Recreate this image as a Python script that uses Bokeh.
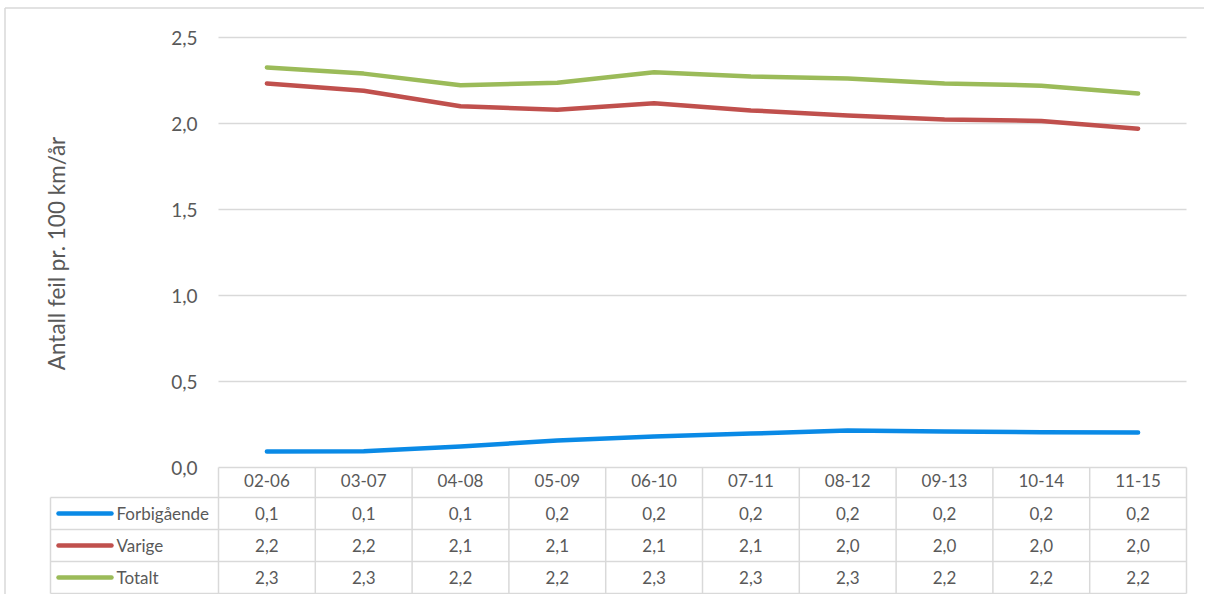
from bokeh.plotting import figure
from bokeh.models import Range1d, FixedTicker, CustomJSTickFormatter
from bokeh.core.properties import value
from bokeh.embed import file_html
from bokeh.resources import INLINE

# ---------------- data ----------------
categories = ["02-06", "03-07", "04-08", "05-09", "06-10", "07-11", "08-12", "09-13", "10-14", "11-15"]
forbigaaende = [0.093, 0.095, 0.122, 0.157, 0.180, 0.197, 0.215, 0.210, 0.205, 0.204]
varige = [2.233, 2.190, 2.100, 2.080, 2.118, 2.076, 2.047, 2.023, 2.015, 1.970]
totalt = [2.326, 2.290, 2.222, 2.237, 2.298, 2.273, 2.262, 2.233, 2.220, 2.174]
series_names = ["Forbigående", "Varige", "Totalt"]
y_ticks = [0.0, 0.5, 1.0, 1.5, 2.0, 2.5]
y_title = "Antall feil pr. 100 km/år"

# ---------------- layout (page pixels -> data) ----------------
W, H = 1204, 594
PAGE = 0
X0, CAT_PX = 218.0, 96.8     # page x of first category edge, px per category
Y0, UNIT_PX = 467.0, 172.0   # page y of value 0, px per unit


def dx(X):
    return (X - X0) / CAT_PX


def dy(Y):
    return (Y0 - Y) / UNIT_PX


FONT = value("Lato")
TXT = "#595959"
GRID = "#d9d9d9"
colors = ["#0a8ae6", "#c0504d", "#9bbb59"]

p = figure(width=W, height=H, output_backend="svg", toolbar_location=None,
           x_range=Range1d(dx(PAGE), dx(PAGE + W)), y_range=Range1d(dy(PAGE + H), dy(PAGE)),
           min_border=0, min_border_left=0, min_border_right=0, min_border_top=0, min_border_bottom=0)
p.outline_line_color = None
p.background_fill_color = "white"
p.xgrid.visible = False
p.ygrid.visible = False

# y axis placed at the left edge of the plot area
yax = p.yaxis[0]
yax.fixed_location = 0
yax.ticker = FixedTicker(ticks=y_ticks)
yax.formatter = CustomJSTickFormatter(code="return tick.toFixed(1).replace('.', ',');")
yax.axis_line_color = None
yax.major_tick_line_color = None
yax.minor_tick_line_color = None
yax.major_tick_out = 0
yax.major_label_standoff = 21
yax.major_label_text_font = "Lato"
yax.major_label_text_font_size = "19px"
yax.major_label_text_color = TXT

# x axis: category header row of the data table
xax = p.xaxis[0]
xax.fixed_location = 0
ncat = len(categories)
xax.ticker = FixedTicker(ticks=[i + 0.5 for i in range(ncat)])
xax.formatter = CustomJSTickFormatter(args=dict(cats=categories),
                                      code="return cats[Math.floor(tick)];")
xax.axis_line_color = None
xax.major_tick_line_color = None
xax.minor_tick_line_color = None
xax.major_tick_out = 0
xax.major_label_standoff = 6
xax.major_label_text_font = "Lato"
xax.major_label_text_font_size = "17px"
xax.major_label_text_color = TXT

# outer chart border (left and top)
p.segment(x0=[dx(4.5), dx(4.5)], y0=[dy(7.5), dy(7.5)],
          x1=[dx(4.5), dx(PAGE + W)], y1=[dy(PAGE + H), dy(7.5)],
          line_color=GRID, line_width=1.5)

# gridlines
gy = [t for t in y_ticks if t > 0]
p.segment(x0=[0] * len(gy), x1=[ncat] * len(gy), y0=gy, y1=gy, line_color=GRID, line_width=1.5)

# data table grid
row_edges = [467, 497, 529, 561, 593]
LEG_L = 50
hx0 = [0] + [dx(LEG_L)] * (len(row_edges) - 1)
hy = [dy(r) for r in row_edges]
p.segment(x0=hx0, x1=[ncat] * len(row_edges), y0=hy, y1=hy, line_color=GRID, line_width=1.5)
vx = list(range(ncat + 1))
p.segment(x0=vx, x1=vx, y0=[dy(row_edges[0])] * len(vx), y1=[dy(row_edges[-1])] * len(vx),
          line_color=GRID, line_width=1.5)
p.segment(x0=[dx(LEG_L)], x1=[dx(LEG_L)], y0=[dy(row_edges[1])], y1=[dy(row_edges[-1])],
          line_color=GRID, line_width=1.5)

# series lines
xs = [i + 0.5 for i in range(ncat)]
all_series = [forbigaaende, varige, totalt]
for vals, col in zip(all_series, colors):
    p.line(xs, vals, line_color=col, line_width=4.5, line_cap="round", line_join="round")


def fmt(v):
    return f"{v:.1f}".replace(".", ",")


# table rows: legend key, name and values
for r, (name, vals, col) in enumerate(zip(series_names, all_series, colors)):
    top, bot = row_edges[r + 1], row_edges[r + 2]
    ym = dy((top + bot) / 2)
    p.segment(x0=[dx(58)], x1=[dx(111)], y0=[ym], y1=[ym], line_color=col, line_width=4.5, line_cap="round")
    p.text(x=[dx(116)], y=[ym], text=[name], text_font=FONT, text_font_size="17px",
           text_color=TXT, text_align="left", text_baseline="middle")
    p.text(x=xs, y=[ym] * ncat, text=[fmt(v) for v in vals], text_font=FONT, text_font_size="17px",
           text_color=TXT, text_align="center", text_baseline="middle")

# y axis title
p.text(x=[dx(56)], y=[dy(253)], text=[y_title], angle=1.5707963, text_font=FONT,
       text_font_size="22.5px", text_color=TXT, text_align="center", text_baseline="middle")

open("out.html", "w").write(file_html(p, INLINE))
